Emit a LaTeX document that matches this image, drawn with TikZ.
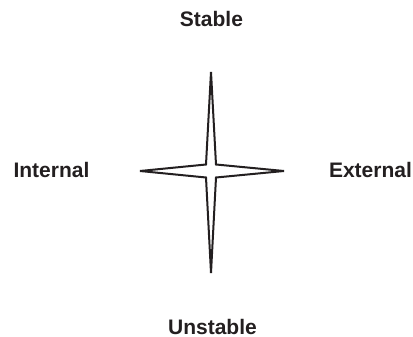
\documentclass[tikz,border=0pt]{standalone}
\usepackage{fontspec}
\setmainfont{Liberation Sans}
\definecolor{ink}{HTML}{231F20}
\begin{document}
\begin{tikzpicture}[x=1pt,y=-1pt,
  lbl/.style={font=\fontsize{21}{24}\selectfont\bfseries, text=ink, anchor=base, inner sep=0pt},
  starline/.style={draw=ink, line width=2pt, line join=miter}]
\useasboundingbox (0,0) rectangle (413,337);
\draw[starline] (211,72) -- (216,164.5) -- (284,171) -- (216,177.5) -- (211,273) -- (206,177.5) -- (140,171) -- (206,164.5) -- cycle;
\node[lbl] (stable) at (211.5,27) {Stable};
\node[lbl] (unstable) at (212.5,334) {Unstable};
\node[lbl] (internal) at (51.5,177) {Internal};
\node[lbl] (external) at (370.5,177) {External};
\end{tikzpicture}
\end{document}
